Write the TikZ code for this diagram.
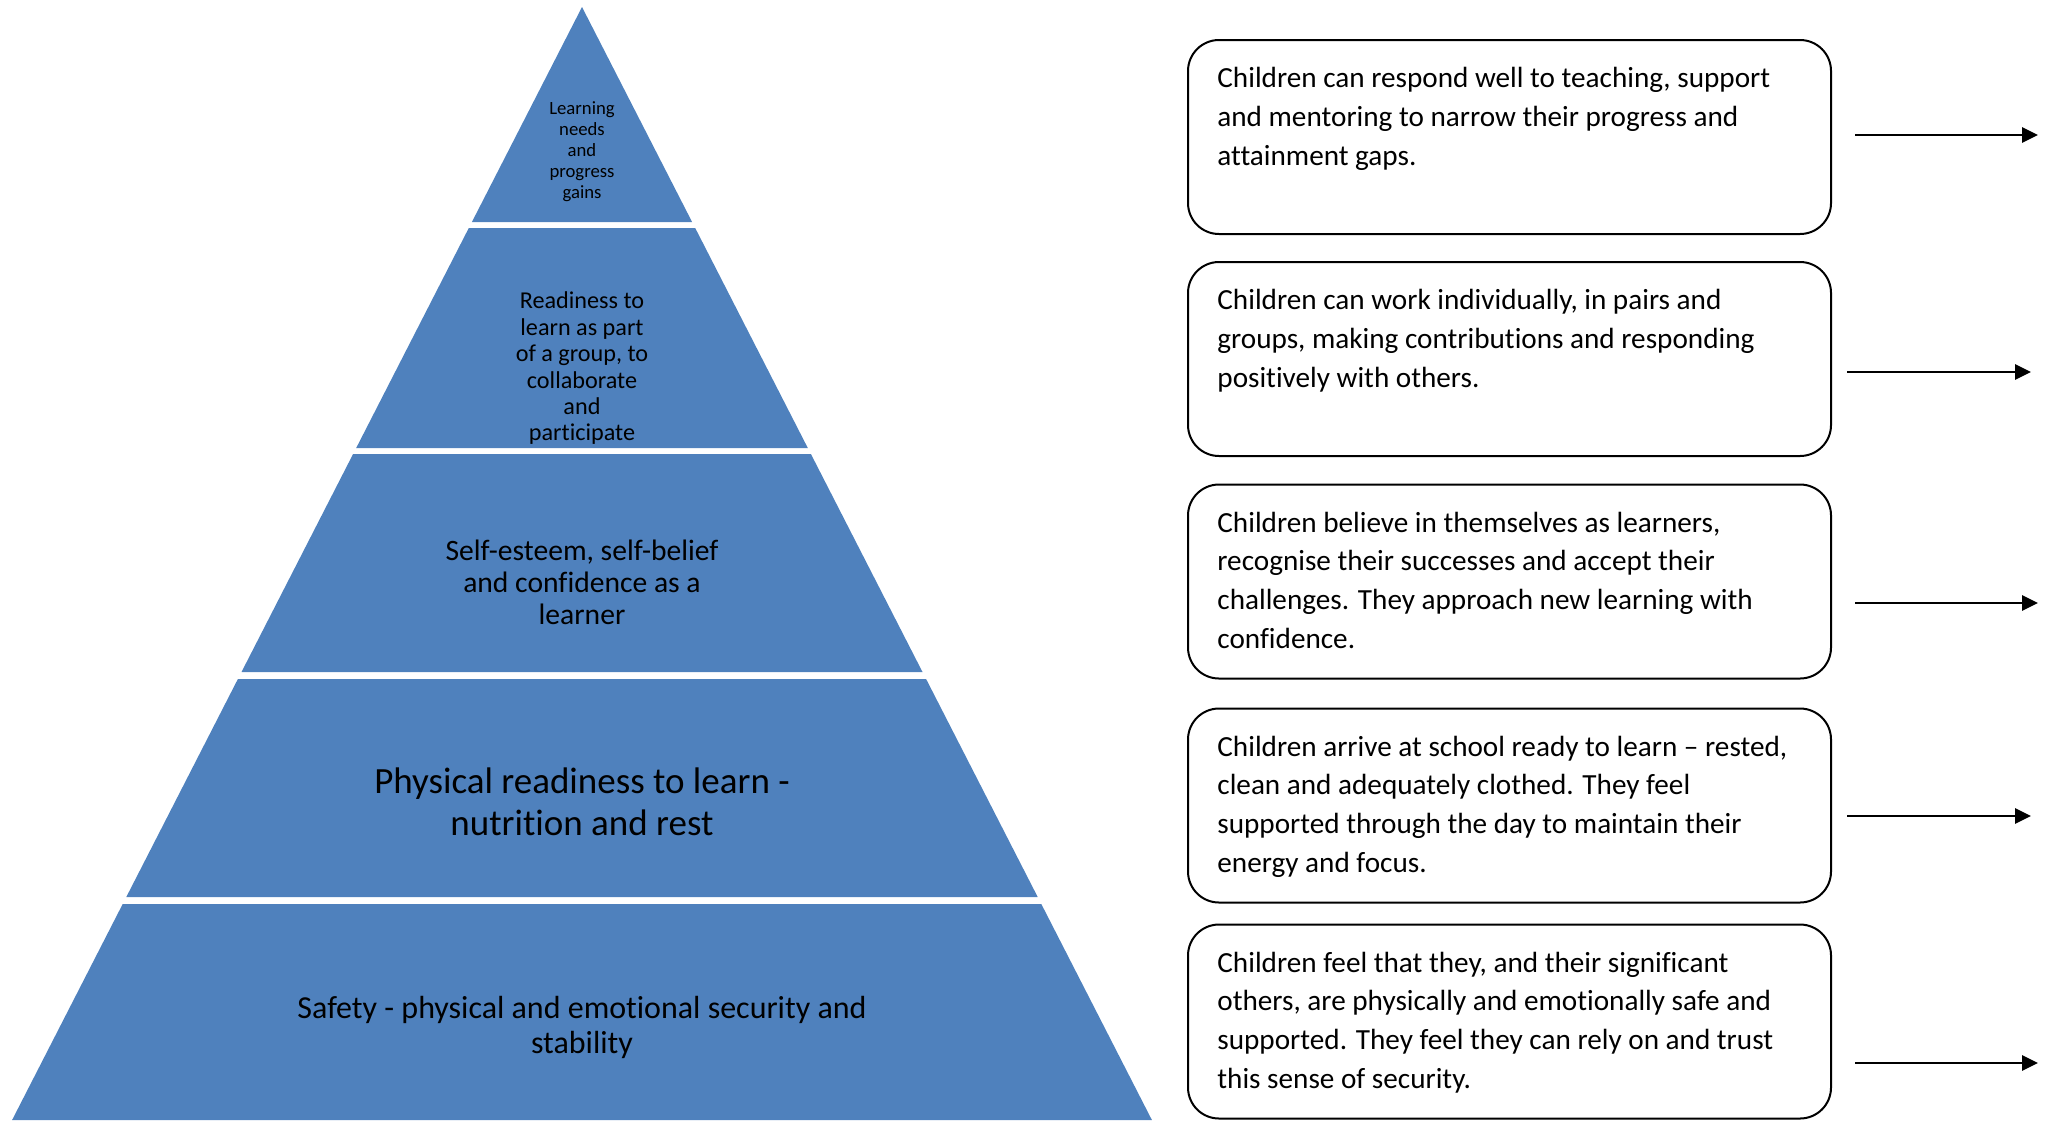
\documentclass[tikz,border=0pt]{standalone}
\usepackage{fontspec}
\setmainfont[Ligatures={TeX,NoCommon}]{Carlito}
\usetikzlibrary{arrows.meta}
\definecolor{tierblue}{HTML}{4F81BD}
\begin{document}
\begin{tikzpicture}[x=0.5pt,y=-0.5pt,
  tier/.style={fill=tierblue,draw=none},
  tiertext/.style={align=center,text=black,inner sep=0pt},
  descbox/.style={draw=black,line width=1pt,rounded corners=15.5pt,fill=white,
    minimum width=321.5pt,minimum height=97pt,inner sep=0pt},
  desctext/.style={align=left,anchor=north west,inner sep=0pt,
    font=\fontsize{14.6}{19.35}\selectfont},
  arr/.style={-{Triangle[length=8pt,width=7.5pt]},line width=1.4pt}]
\useasboundingbox (0,0) rectangle (2048,1120);

% pyramid tiers
\fill[tier] (582,7) -- (692.1,222) -- (471.9,222) -- cycle;
\fill[tier] (468.8,228) -- (695.2,228) -- (807.8,448) -- (356.2,448) -- cycle;
\fill[tier] (353.1,454) -- (810.9,454) -- (922.5,672) -- (241.5,672) -- cycle;
\fill[tier] (237.9,679) -- (926.1,679) -- (1037.7,897) -- (126.3,897) -- cycle;
\fill[tier] (122.7,904) -- (1041.3,904) -- (1151.9,1120) -- (12.1,1120) -- cycle;

\node[tiertext,font=\fontsize{9.35}{10.5}\selectfont] (p1) at (582,152)
  {Learning\\needs\\and\\progress\\gains};
\node[tiertext,font=\fontsize{12.1}{13.2}\selectfont] (p2) at (582,368.5)
  {Readiness to\\learn as part\\of a group, to\\collaborate\\and\\participate};
\node[tiertext,font=\fontsize{14.8}{16}\selectfont] (p3) at (582,582.5)
  {Self-esteem, self-belief\\and confidence as a\\learner};
\node[tiertext,font=\fontsize{18.5}{21}\selectfont] (p4) at (582,802)
  {Physical readiness to learn -\\nutrition and rest};
\node[tiertext,font=\fontsize{16}{17.5}\selectfont] (p5) at (582,1027.5)
  {Safety - physical and emotional security and\\stability};

% description boxes
\node[descbox] (b1) at (1509.5,137) {};
\node[descbox] (b2) at (1509.5,359) {};
\node[descbox] (b3) at (1509.5,581.5) {};
\node[descbox] (b4) at (1509.5,805.5) {};
\node[descbox] (b5) at (1509.5,1021.5) {};

\node[desctext] (t1) at ([xshift=15pt,yshift=-14pt]b1.north west)
  {Children can respond well to teaching, support\\and mentoring to narrow their progress and\\attainment gaps.};
\node[desctext] (t2) at ([xshift=15pt,yshift=-14pt]b2.north west)
  {Children can work individually, in pairs and\\groups, making contributions and responding\\positively with others.};
\node[desctext] (t3) at ([xshift=15pt,yshift=-14pt]b3.north west)
  {Children believe in themselves as learners,\\recognise their successes and accept their\\challenges. They approach new learning with\\confidence.};
\node[desctext] (t4) at ([xshift=15pt,yshift=-14pt]b4.north west)
  {Children arrive at school ready to learn – rested,\\clean and adequately clothed. They feel\\supported through the day to maintain their\\energy and focus.};
\node[desctext] (t5) at ([xshift=15pt,yshift=-14pt]b5.north west)
  {Children feel that they, and their significant\\others, are physically and emotionally safe and\\supported. They feel they can rely on and trust\\this sense of security.};

% arrows
\coordinate (a1s) at (1855,135);  \coordinate (a1e) at (2038,135);
\coordinate (a2s) at (1847,372);  \coordinate (a2e) at (2031,372);
\coordinate (a3s) at (1855,603);  \coordinate (a3e) at (2038,603);
\coordinate (a4s) at (1847,816);  \coordinate (a4e) at (2031,816);
\coordinate (a5s) at (1855,1063); \coordinate (a5e) at (2038,1063);
\draw[arr] (a1s) -- (a1e);
\draw[arr] (a2s) -- (a2e);
\draw[arr] (a3s) -- (a3e);
\draw[arr] (a4s) -- (a4e);
\draw[arr] (a5s) -- (a5e);
\end{tikzpicture}
\end{document}
